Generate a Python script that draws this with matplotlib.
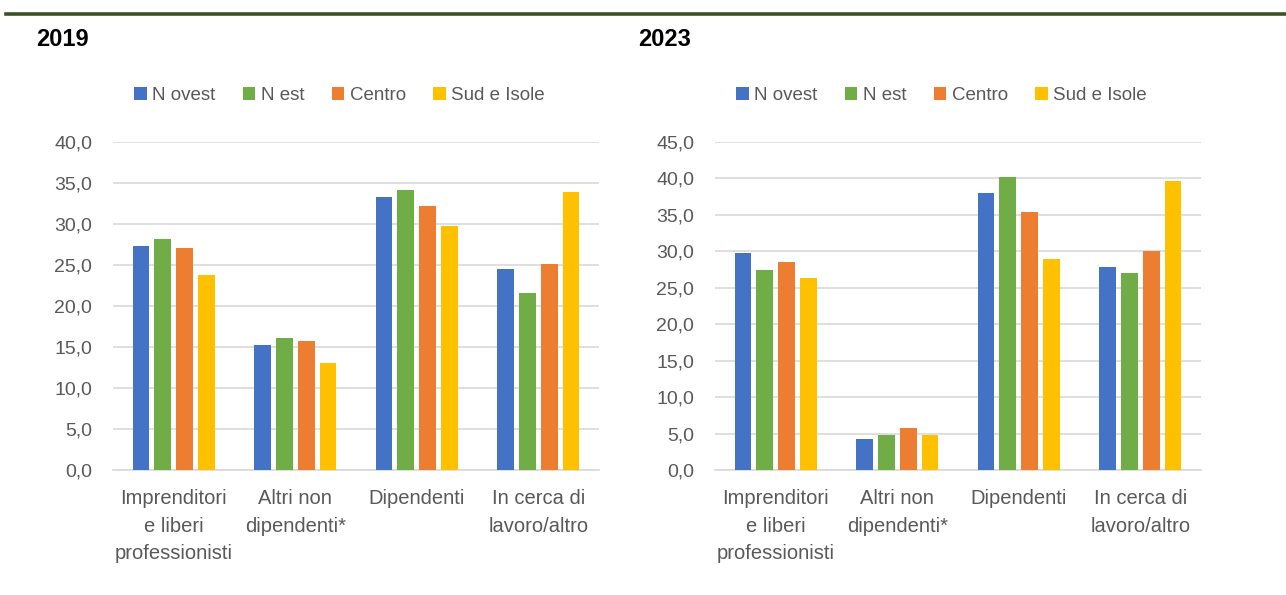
import numpy as np
import matplotlib.pyplot as plt
from matplotlib.lines import Line2D

plt.rcParams['font.family'] = ['Liberation Sans', 'DejaVu Sans']

categories = ["Imprenditori\ne liberi\nprofessionisti", "Altri non\ndipendenti*",
              "Dipendenti", "In cerca di\nlavoro/altro"]
regions = ["N ovest", "N est", "Centro", "Sud e Isole"]
colors = ["#4472C4", "#70AD47", "#ED7D31", "#FFC000"]

# values per region, in category order
v2019 = {
    "N ovest": [27.3, 15.2, 33.3, 24.5],
    "N est": [28.2, 16.1, 34.1, 21.6],
    "Centro": [27.1, 15.7, 32.2, 25.1],
    "Sud e Isole": [23.8, 13.0, 29.8, 33.9],
}
v2023 = {
    "N ovest": [29.8, 4.3, 38.0, 27.8],
    "N est": [27.5, 4.8, 40.2, 27.0],
    "Centro": [28.5, 5.7, 35.4, 30.0],
    "Sud e Isole": [26.3, 4.8, 29.0, 39.6],
}

W, H = 1286, 595
fig = plt.figure(figsize=(W / 100, H / 100), dpi=100)

# top rule
fig.add_artist(Line2D([6 / W, 1.0], [1 - 14 / H, 1 - 14 / H], color="#3B5323", lw=2.6))

gray = "#595959"


def draw(left_px, title, data, ymax):
    shift = left_px - 113
    ax = fig.add_axes([left_px / W, 1 - 470 / H, 486 / W, 328 / H])
    x = np.arange(len(categories))
    pitch = 0.18
    for i, r in enumerate(regions):
        ax.bar(x + (i - 1.5) * pitch, data[r], 0.137, color=colors[i],
               label=r, zorder=3)
    ax.set_xlim(-0.5, 3.5)
    ax.set_ylim(0, ymax)
    ticks = np.arange(0, ymax + 0.1, 5)
    ax.set_yticks(ticks)
    ax.set_yticklabels([f"{t:.1f}".replace(".", ",") for t in ticks])
    ax.yaxis.grid(True, color="#D9D9D9", linewidth=1.2, zorder=0)
    ax.set_axisbelow(True)
    for s in ["top", "right", "left"]:
        ax.spines[s].set_visible(False)
    ax.spines["bottom"].set_color("#D9D9D9")
    ax.spines["bottom"].set_linewidth(1.2)
    ax.tick_params(axis="both", length=0, colors=gray)
    ax.tick_params(axis="y", pad=15, labelsize=14)
    ax.tick_params(axis="x", pad=14, labelsize=14.5)
    ax.set_xticks(x)
    ax.set_xticklabels(categories, linespacing=1.55)
    fig.text((36 + shift) / W, 1 - 40 / H, title, fontsize=17, fontweight="bold",
             va="center", ha="left", color="black")
    fig.legend(*ax.get_legend_handles_labels(), loc="center left",
               bbox_to_anchor=((134 + shift) / W, 1 - 95.5 / H), ncol=4,
               frameon=False, fontsize=13.5, labelcolor=gray, handlelength=0.67,
               handleheight=0.67, handletextpad=0.3, columnspacing=1.45,
               borderaxespad=0, borderpad=0)
    return ax


draw(113, "2019", v2019, 40)
draw(715, "2023", v2023, 45)

fig.savefig("out.png", dpi=100)
